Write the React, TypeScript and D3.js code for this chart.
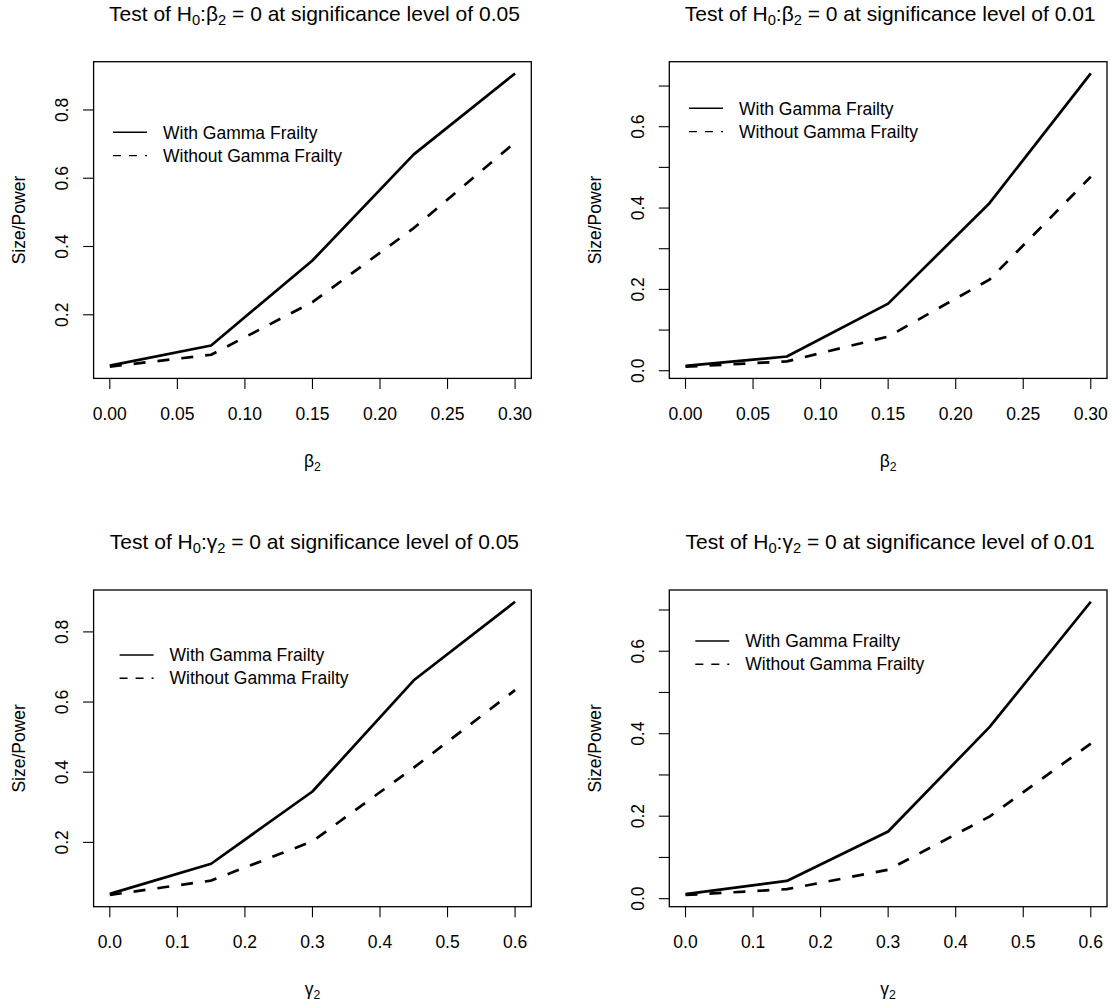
import React from "react";
import * as d3 from "d3";

// x values of the simulation grid
const betaX = [0, 0.075, 0.15, 0.225, 0.3];
const gammaX = [0, 0.15, 0.3, 0.45, 0.6];

// size / power
const beta05With = [0.051, 0.11, 0.359, 0.67, 0.907];
const beta05Without = [0.048, 0.083, 0.237, 0.454, 0.705];
const beta01With = [0.012, 0.035, 0.165, 0.412, 0.731];
const beta01Without = [0.01, 0.023, 0.084, 0.224, 0.477];
const gamma05With = [0.053, 0.139, 0.345, 0.662, 0.886];
const gamma05Without = [0.05, 0.091, 0.203, 0.413, 0.634];
const gamma01With = [0.011, 0.043, 0.163, 0.416, 0.72];
const gamma01Without = [0.009, 0.023, 0.07, 0.199, 0.376];

// axis ticks and labels
const betaTicks = [0, 0.05, 0.1, 0.15, 0.2, 0.25, 0.3];
const betaTickLabels = ["0.00", "0.05", "0.10", "0.15", "0.20", "0.25", "0.30"];
const gammaTicks = [0, 0.1, 0.2, 0.3, 0.4, 0.5, 0.6];
const gammaTickLabels = ["0.0", "0.1", "0.2", "0.3", "0.4", "0.5", "0.6"];
const yTicks05 = [0.2, 0.4, 0.6, 0.8];
const yLabels05 = ["0.2", "0.4", "0.6", "0.8"];
const yTicks01 = [0, 0.1, 0.2, 0.3, 0.4, 0.5, 0.6, 0.7];
const yLabels01 = ["0.0", "", "0.2", "", "0.4", "", "0.6", ""];

const legendLabels = ["With Gamma Frailty", "Without Gamma Frailty"];

const FONT = "'Liberation Sans', Arial, Helvetica, sans-serif";
const COL = 575.7;
const ROW = 528.3;
const box = { left: 93.6, right: 531.3, top: 61.7, bottom: 378.4 };

const pad = (lo: number, hi: number) => {
  const r = hi - lo;
  return [lo - 0.04 * r, hi + 0.04 * r];
};

type PanelProps = {
  col: number;
  row: number;
  param: string;
  level: string;
  xs: number[];
  xTicks: number[];
  xTickLabels: string[];
  yTicks: number[];
  yTickLabels: string[];
  withF: number[];
  withoutF: number[];
  legend: [number, number];
};

const Panel = (p: PanelProps) => {
  const all = p.withF.concat(p.withoutF);
  const x = d3
    .scaleLinear()
    .domain(pad(d3.min(p.xs)!, d3.max(p.xs)!))
    .range([box.left, box.right]);
  const y = d3
    .scaleLinear()
    .domain(pad(d3.min(all)!, d3.max(all)!))
    .range([box.bottom, box.top]);
  const line = d3
    .line<number>()
    .x((_, i) => x(p.xs[i]))
    .y((d) => y(d));
  const cx = (box.left + box.right) / 2;
  const cy = (box.top + box.bottom) / 2;
  const [lx, ly] = p.legend;

  return (
    <g transform={`translate(${p.col * COL},${p.row * ROW})`} fontFamily={FONT}>
      <text x={cx + 2} y={20.7} fontSize={21} textAnchor="middle">
        <tspan>Test of H</tspan>
        <tspan fontSize={14.7} dy={4.5}>0</tspan>
        <tspan dy={-4.5}>:{p.param}</tspan>
        <tspan fontSize={14.7} dy={4.5}>2</tspan>
        <tspan dy={-4.5}> = 0 at significance level of {p.level}</tspan>
      </text>

      <rect
        x={box.left}
        y={box.top}
        width={box.right - box.left}
        height={box.bottom - box.top}
        fill="none"
        stroke="#000"
        strokeWidth={1.3}
      />

      {p.xTicks.map((t, i) => (
        <g key={"xt" + i}>
          <line x1={x(t)} x2={x(t)} y1={box.bottom} y2={box.bottom + 10.5} stroke="#000" strokeWidth={1.1} />
          <text x={x(t)} y={box.bottom + 41.7} fontSize={17.5} textAnchor="middle">
            {p.xTickLabels[i]}
          </text>
        </g>
      ))}

      {p.yTicks.map((t, i) => (
        <g key={"yt" + i}>
          <line x1={box.left - 10.5} x2={box.left} y1={y(t)} y2={y(t)} stroke="#000" strokeWidth={1.1} />
          {p.yTickLabels[i] && (
            <text
              transform={`translate(${box.left - 25.2},${y(t)}) rotate(-90)`}
              fontSize={17.5}
              textAnchor="middle"
            >
              {p.yTickLabels[i]}
            </text>
          )}
        </g>
      ))}

      <text transform={`translate(25,${cy}) rotate(-90)`} fontSize={17.5} textAnchor="middle">
        Size/Power
      </text>
      <text x={cx} y={467} fontSize={17.5} textAnchor="middle">
        <tspan>{p.param}</tspan>
        <tspan fontSize={12.2} dy={3.5}>2</tspan>
      </text>

      <path d={line(p.withF)!} fill="none" stroke="#000" strokeWidth={2.7} strokeLinejoin="round" />
      <path
        d={line(p.withoutF)!}
        fill="none"
        stroke="#000"
        strokeWidth={2.7}
        strokeLinejoin="round"
        strokeDasharray="12,12"
      />

      {legendLabels.map((lab, i) => (
        <g key={"lg" + i}>
          <line
            x1={lx}
            x2={lx + 34}
            y1={ly + i * 23.3}
            y2={ly + i * 23.3}
            stroke="#000"
            strokeWidth={1.4}
            strokeDasharray={i === 1 ? "8,8" : undefined}
          />
          <text x={lx + 50} y={ly + i * 23.3 + 6.2} fontSize={17.5}>
            {lab}
          </text>
        </g>
      ))}
    </g>
  );
};

export default function App() {
  return (
    <svg
      width={1113}
      height={1006}
      style={{ position: "absolute", left: 0, top: 0, background: "#fff" }}
    >
      <rect width={1113} height={1006} fill="#fff" />
      <Panel
        col={0}
        row={0}
        param="β"
        level="0.05"
        xs={betaX}
        xTicks={betaTicks}
        xTickLabels={betaTickLabels}
        yTicks={yTicks05}
        yTickLabels={yLabels05}
        withF={beta05With}
        withoutF={beta05Without}
        legend={[113, 132.3]}
      />
      <Panel
        col={1}
        row={0}
        param="β"
        level="0.01"
        xs={betaX}
        xTicks={betaTicks}
        xTickLabels={betaTickLabels}
        yTicks={yTicks01}
        yTickLabels={yLabels01}
        withF={beta01With}
        withoutF={beta01Without}
        legend={[113.3, 108.3]}
      />
      <Panel
        col={0}
        row={1}
        param="γ"
        level="0.05"
        xs={gammaX}
        xTicks={gammaTicks}
        xTickLabels={gammaTickLabels}
        yTicks={yTicks05}
        yTickLabels={yLabels05}
        withF={gamma05With}
        withoutF={gamma05Without}
        legend={[119.6, 126.7]}
      />
      <Panel
        col={1}
        row={1}
        param="γ"
        level="0.01"
        xs={gammaX}
        xTicks={gammaTicks}
        xTickLabels={gammaTickLabels}
        yTicks={yTicks01}
        yTickLabels={yLabels01}
        withF={gamma01With}
        withoutF={gamma01Without}
        legend={[119.6, 112.7]}
      />
    </svg>
  );
}
